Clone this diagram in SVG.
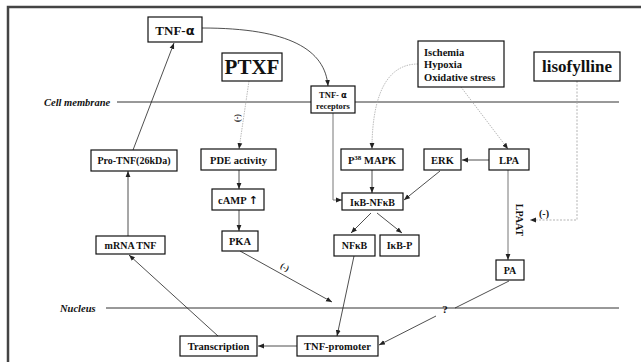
<svg xmlns="http://www.w3.org/2000/svg" width="641" height="362" viewBox="0 0 641 362">
<style>
.bx{fill:#fff;stroke:#111;stroke-width:1.2}
.t{font-family:"Liberation Serif","Times New Roman",serif;font-weight:bold;fill:#111;text-anchor:middle}
.lbl{font-family:"Liberation Serif","Times New Roman",serif;font-weight:bold;font-style:italic;fill:#111}
.ln{fill:none;stroke:#222;stroke-width:0.8}
.gr{fill:none;stroke:#777;stroke-width:1}
.dot{fill:none;stroke:#aaa;stroke-width:0.8;stroke-dasharray:1.5 1}
.dash{fill:none;stroke:#aaa;stroke-width:0.9;stroke-dasharray:2 1.5}
.mem{stroke:#333;stroke-width:1}
</style>
<defs>
<marker id="ah" viewBox="0 0 6 6" refX="6" refY="3" markerWidth="6" markerHeight="6" orient="auto" markerUnits="userSpaceOnUse">
<path d="M0,0.6 L6,3 L0,5.4 z" fill="#222"/>
</marker>
</defs>
<rect x="8" y="7" width="700" height="400" fill="#fff" stroke="#444" stroke-width="2.5"/>
<g id="membranes">
<text class="lbl" x="44" y="106" font-size="10.5">Cell membrane</text>
<line class="mem" x1="117" y1="102" x2="619" y2="102"/>
<text class="lbl" x="60" y="312" font-size="10.5">Nucleus</text>
<line class="mem" x1="106" y1="308" x2="619" y2="308"/>
</g>
<g id="connectors">
<path class="ln" d="M133,150 L174,43" marker-end="url(#ah)"/>
<path class="ln" d="M202,28 C290,28 325,50 328,86" marker-end="url(#ah)"/>
<path class="dot" d="M249,81 L239,149" marker-end="url(#ah)"/>
<text class="t" font-size="8" transform="translate(237,118) rotate(-90)" dy="3">(-)</text>
<path class="ln" d="M128,236 L128,171" marker-end="url(#ah)"/>
<path class="ln" d="M239,170 L239,189" marker-end="url(#ah)"/>
<path class="ln" d="M239,210 L239,231" marker-end="url(#ah)"/>
<path class="ln" stroke="#444" d="M240,251 L332,302" marker-end="url(#ah)"/>
<text class="t" font-size="8.5" transform="translate(285,267) rotate(29)" dy="3">(-)</text>
<path class="ln" d="M297,346 L258,346" marker-end="url(#ah)"/>
<path class="ln" d="M218,336 L129,255" marker-end="url(#ah)"/>
<path class="gr" d="M333,113 L333,200 L342,200" marker-end="url(#ah)"/>
<path class="dot" d="M418,64 C380,64 372,110 372,149" marker-end="url(#ah)"/>
<path class="dot" d="M461,87 L508,149" marker-end="url(#ah)"/>
<path class="ln" d="M372,170 L372,193" marker-end="url(#ah)"/>
<path class="ln" d="M440,171 L404,200" marker-end="url(#ah)"/>
<path class="ln" d="M489,160 L462,160" marker-end="url(#ah)"/>
<path class="ln" d="M371,213 L351,233" marker-end="url(#ah)"/>
<path class="ln" d="M377,213 L402,233" marker-end="url(#ah)"/>
<path class="ln" d="M354,256 L337,336" marker-end="url(#ah)"/>
<path class="gr" d="M508,170 L508,260" marker-end="url(#ah)"/>
<text class="t" font-size="10" transform="translate(516,220) rotate(90)">LPAAT</text>
<path class="dash" d="M577,81 L577,220 L530,220" marker-end="url(#ah)"/>
<text class="t" font-size="10" x="544" y="217">(-)</text>
<path class="ln" d="M509,281 L455,308"/>
<text class="t" font-size="11" x="445" y="313">?</text>
<path class="ln" d="M436,316 L379,345" marker-end="url(#ah)"/>
</g>
<g id="tnfa"><rect class="bx" x="148" y="17" width="54" height="25"/><text class="t" x="175" y="34.5" font-size="13">TNF-<tspan font-family="'DejaVu Sans',sans-serif">α</tspan></text></g>
<g id="ptxf"><rect class="bx" x="222" y="53" width="60" height="28"/><text class="t" x="252" y="74" font-size="21">PTXF</text></g>
<g id="receptors"><rect class="bx" x="311" y="86" width="44" height="27"/><text class="t" x="333" y="97.5" font-size="8.5">TNF- <tspan font-family="'DejaVu Sans',sans-serif">α</tspan></text><text class="t" x="333" y="109" font-size="8.5">receptors</text></g>
<g id="ischemia"><rect class="bx" x="418" y="41" width="86" height="46"/>
<text class="t" x="424" y="55.5" font-size="10.5" text-anchor="start" style="text-anchor:start">Ischemia</text>
<text class="t" x="424" y="68" font-size="10.5" style="text-anchor:start">Hypoxia</text>
<text class="t" x="424" y="80.5" font-size="10.5" style="text-anchor:start">Oxidative stress</text></g>
<g id="lisofylline"><rect class="bx" x="534" y="52" width="86" height="29"/><text class="t" x="577" y="72" font-size="17">lisofylline</text></g>
<g id="protnf"><rect class="bx" x="91" y="150" width="86" height="21"/><text class="t" x="134" y="164" font-size="10">Pro-TNF(26kDa)</text></g>
<g id="pde"><rect class="bx" x="201" y="149" width="75" height="21"/><text class="t" x="238.5" y="163.5" font-size="10.5">PDE activity</text></g>
<g id="camp"><rect class="bx" x="212" y="189" width="52" height="21"/><text class="t" x="238" y="203.5" font-size="10.5">cAMP <tspan font-family="'DejaVu Sans',sans-serif" font-size="11">↑</tspan></text></g>
<g id="pka"><rect class="bx" x="222" y="231" width="36" height="20"/><text class="t" x="240" y="245" font-size="10.5">PKA</text></g>
<g id="mrna"><rect class="bx" x="96" y="236" width="69" height="18"/><text class="t" x="130.5" y="249" font-size="10">mRNA TNF</text></g>
<g id="p38"><rect class="bx" x="341" y="149" width="62" height="21"/><text class="t" x="372" y="163.5" font-size="10.5">P<tspan font-size="7" dy="-4">38</tspan><tspan dy="4"> MAPK</tspan></text></g>
<g id="erk"><rect class="bx" x="424" y="149" width="37" height="21"/><text class="t" x="442.5" y="163.5" font-size="10.5">ERK</text></g>
<g id="lpa"><rect class="bx" x="489" y="149" width="40" height="21"/><text class="t" x="509" y="163.5" font-size="10.5">LPA</text></g>
<g id="ikbnfkb"><rect class="bx" x="342" y="193" width="61" height="17"/><text class="t" x="372.5" y="205.5" font-size="10">IκB-NFκB</text></g>
<g id="nfkb"><rect class="bx" x="334" y="235" width="41" height="21"/><text class="t" x="354.5" y="249" font-size="10">NFκB</text></g>
<g id="ikbp"><rect class="bx" x="380" y="235" width="39" height="21"/><text class="t" x="399.5" y="249" font-size="10">IκB-P</text></g>
<g id="pa"><rect class="bx" x="496" y="260" width="28" height="20"/><text class="t" x="510" y="274" font-size="10">PA</text></g>
<g id="transcription"><rect class="bx" x="180" y="336" width="77" height="20"/><text class="t" x="218.5" y="350" font-size="10.5">Transcription</text></g>
<g id="tnfpromoter"><rect class="bx" x="297" y="336" width="81" height="20"/><text class="t" x="337.5" y="350" font-size="10.5">TNF-promoter</text></g>
</svg>
